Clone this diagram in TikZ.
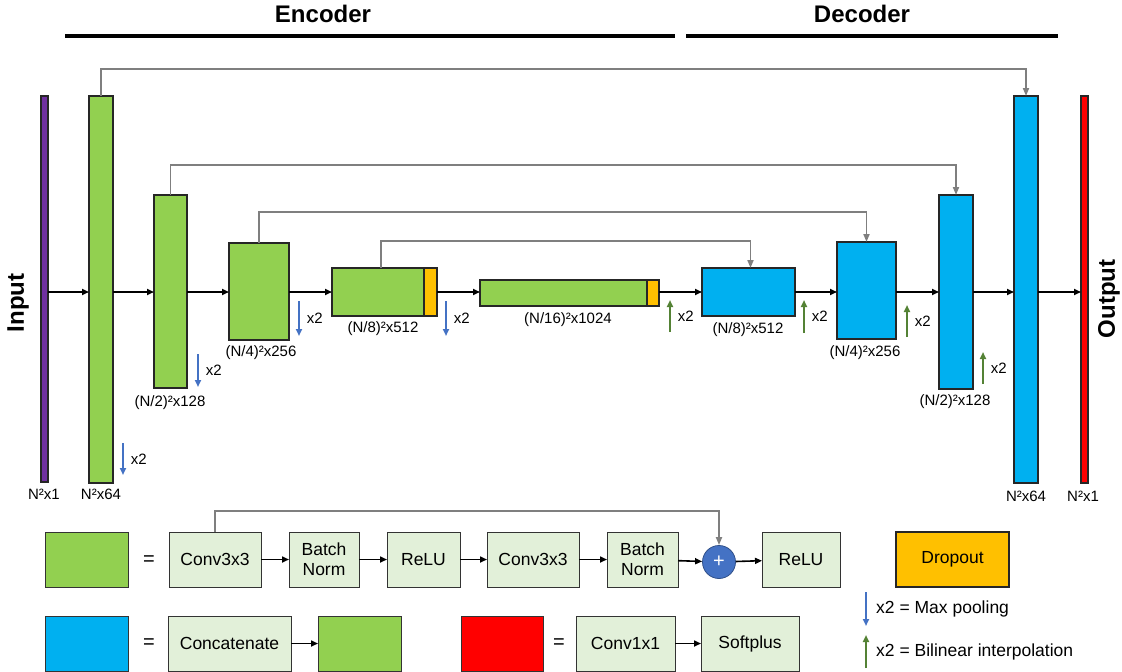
\documentclass[tikz,border=0pt]{standalone}
\usepackage{fontspec}
\setmainfont{Liberation Sans}
\usetikzlibrary{arrows.meta,positioning}
\definecolor{verde}{HTML}{92D050}
\definecolor{azzurro}{HTML}{00B0F0}
\definecolor{arancio}{HTML}{FFC000}
\definecolor{rosso}{HTML}{FF0000}
\definecolor{viola}{HTML}{7030A0}
\definecolor{verdino}{HTML}{E2F0D9}
\definecolor{bluplus}{HTML}{4472C4}
\definecolor{grigio}{HTML}{7F7F7F}
\definecolor{verdescuro}{HTML}{548235}
\tikzset{
  blocco/.style={draw=black!85, line width=1.3pt, inner sep=0pt, outer sep=0pt, anchor=north west},
  leg/.style={draw=black!80, line width=1pt, fill=verdino, inner sep=0pt, outer sep=0pt, anchor=north west,
    minimum height=55pt, align=center, font=\fontsize{17.5}{20}\selectfont},
  freccia/.style={line width=1.6pt, -{Triangle[length=7pt,width=6pt]}},
  salto/.style={draw=grigio, line width=1.8pt, -{Triangle[length=8pt,width=6pt]}},
  giu/.style={draw=bluplus, line width=1.8pt, -{Triangle[length=7pt,width=6pt]}},
  su/.style={draw=verdescuro, line width=1.8pt, -{Triangle[length=7pt,width=6pt]}},
  dim/.style={font=\fontsize{15}{18}\selectfont, inner sep=0pt},
  titolo/.style={font=\fontsize{24}{28}\selectfont\bfseries, inner sep=0pt},
}
\begin{document}
\begin{tikzpicture}[x=1pt,y=-1pt]
  \useasboundingbox (0,0) rectangle (1122,672);
  %titoli
  \node[titolo] (enc) at (323,14) {Encoder};
  \node[titolo] (dec) at (862,14) {Decoder};
  \draw[line width=4pt] (65,36) -- (675,36);
  \draw[line width=4pt] (686,36) -- (1058,36);
  \node[titolo, rotate=90] (inp) at (18,303) {Input};
  \node[titolo, rotate=90] (out) at (1109,299) {Output};
  %blocchi
  \node[blocco, fill=viola, minimum width=7pt, minimum height=386pt] (p) at (41,96) {};
  \node[blocco, fill=verde, minimum width=24pt, minimum height=387pt] (g1) at (89,96) {};
  \node[blocco, fill=verde, minimum width=33pt, minimum height=193pt] (g2) at (154,195) {};
  \node[blocco, fill=verde, minimum width=60pt, minimum height=97pt] (g3) at (229,243) {};
  \node[blocco, fill=verde, minimum width=92pt, minimum height=48pt] (g4) at (332,268) {};
  \node[blocco, fill=arancio, minimum width=13pt, minimum height=48pt] (d4) at (424,268) {};
  \node[blocco, fill=verde, minimum width=167pt, minimum height=26pt] (g5) at (480,280) {};
  \node[blocco, fill=arancio, minimum width=12pt, minimum height=26pt] (d5) at (647,280) {};
  \node[blocco, fill=azzurro, minimum width=93pt, minimum height=48pt] (b4) at (702,268) {};
  \node[blocco, fill=azzurro, minimum width=59pt, minimum height=97pt] (b3) at (837,242) {};
  \node[blocco, fill=azzurro, minimum width=34pt, minimum height=194pt] (b2) at (939,195) {};
  \node[blocco, fill=azzurro, minimum width=24pt, minimum height=387pt] (b1) at (1014,96) {};
  \node[blocco, fill=rosso, minimum width=7pt, minimum height=387pt] (r) at (1081,96) {};
  %dimensioni
  \node[dim] (lp) at (44,494) {N²x1};
  \node[dim] (lg1) at (101,494) {N²x64};
  \node[dim] (lg2) at (170,403) {(N/2)²x128};
  \node[dim] (lg3) at (261,353) {(N/4)²x256};
  \node[dim] (lg4) at (383,329) {(N/8)²x512};
  \node[dim] (lg5) at (568,320) {(N/16)²x1024};
  \node[dim] (lb4) at (748,330) {(N/8)²x512};
  \node[dim] (lb3) at (865,353) {(N/4)²x256};
  \node[dim] (lb2) at (955,402) {(N/2)²x128};
  \node[dim] (lb1) at (1026,496) {N²x64};
  \node[dim] (lr) at (1083,496) {N²x1};
  %frecce
  \coordinate (asse) at (0,292);
  \draw[freccia] (p.east |- asse) -- (g1.west |- asse);
  \draw[freccia] (g1.east |- asse) -- (g2.west |- asse);
  \draw[freccia] (g2.east |- asse) -- (g3.west |- asse);
  \draw[freccia] (g3.east |- asse) -- (g4.west |- asse);
  \draw[freccia] (d4.east |- asse) -- (g5.west |- asse);
  \draw[freccia] (d5.east |- asse) -- (b4.west |- asse);
  \draw[freccia] (b4.east |- asse) -- (b3.west |- asse);
  \draw[freccia] (b3.east |- asse) -- (b2.west |- asse);
  \draw[freccia] (b2.east |- asse) -- (b1.west |- asse);
  \draw[freccia] (b1.east |- asse) -- (r.west |- asse);
  %skip
  \draw[salto] (g1.north) -- ++(0,-27) -| (b1.north);
  \draw[salto] (g2.north) -- ++(0,-30) -| (b2.north);
  \draw[salto] (g3.north) -- ++(0,-31) -| (b3.north);
  \draw[salto] ([xshift=3pt]g4.north) -- ++(0,-27) -| ([xshift=2pt]b4.north);
  %x2
  \foreach \x/\ya/\yb in {123/443/475, 198/354/387, 299/301/336, 446/301/336}
    \draw[giu] (\x,\ya) -- (\x,\yb) node[dim, midway, right=7pt] {x2};
  \foreach \x/\ya/\yb in {670/332/300, 804/333/300, 907/337/305, 983/384/352}
    \draw[su] (\x,\ya) -- (\x,\yb) node[dim, midway, right=7pt] {x2};
  %legenda
  \node[leg, fill=verde, minimum width=83pt] (lv) at (45,532) {};
  \node[font=\fontsize{20}{24}\selectfont] (eq1) at (149,561) {=};
  \node[leg, minimum width=92pt] (conv1) at (169,532) {Conv3x3};
  \node[leg, minimum width=70pt] (bn1) at (289,532) {Batch\\Norm};
  \node[leg, minimum width=73pt] (relu1) at (387,532) {ReLU};
  \node[leg, minimum width=92pt] (conv2) at (487,532) {Conv3x3};
  \node[leg, minimum width=71pt] (bn2) at (607,532) {Batch\\Norm};
  \node[circle, draw=bluplus!70!black, line width=0.8pt, fill=bluplus, minimum size=33pt, inner sep=0pt,
    text=white, font=\fontsize{20}{24}\selectfont] (piu) at (719,562) {+};
  \node[leg, minimum width=78pt] (relu2) at (762,532) {ReLU};
  \node[leg, fill=arancio, line width=1.5pt, draw=black!85, minimum width=113pt] (drop) at (896,532) {Dropout};
  \draw[freccia] (conv1) -- (bn1);
  \draw[freccia] (bn1) -- (relu1);
  \draw[freccia] (relu1) -- (conv2);
  \draw[freccia] (conv2) -- (bn2);
  \draw[freccia] (bn2) -- (piu);
  \draw[freccia] (piu) -- (relu2);
  \draw[salto] (conv1.north) -- ++(0,-21) -| (piu.north);
  \node[leg, fill=azzurro, minimum width=83pt] (lb) at (45,616) {};
  \node[font=\fontsize{20}{24}\selectfont] (eq2) at (149,644) {=};
  \node[leg, minimum width=123pt] (conc) at (168,616) {Concatenate};
  \node[leg, fill=verde, minimum width=83pt] (lv2) at (318,616) {};
  \node[leg, fill=rosso, minimum width=82pt] (lrs) at (461,616) {};
  \node[font=\fontsize{20}{24}\selectfont] (eq3) at (559,644) {=};
  \node[leg, minimum width=99pt] (c11) at (576,616) {Conv1x1};
  \node[leg, minimum width=98pt] (soft) at (701,616) {Softplus};
  \draw[freccia] (conc) -- (lv2);
  \draw[freccia] (c11) -- (soft);
  \draw[giu] (866,592) -- (866,626);
  \node[anchor=west, inner sep=0pt, font=\fontsize{17.5}{20}\selectfont] (mp) at (876,609) {x2 = Max pooling};
  \draw[su] (866,668) -- (866,635);
  \node[anchor=west, inner sep=0pt, font=\fontsize{17.5}{20}\selectfont] (bi) at (876,652) {x2 = Bilinear interpolation};
\end{tikzpicture}
\end{document}
